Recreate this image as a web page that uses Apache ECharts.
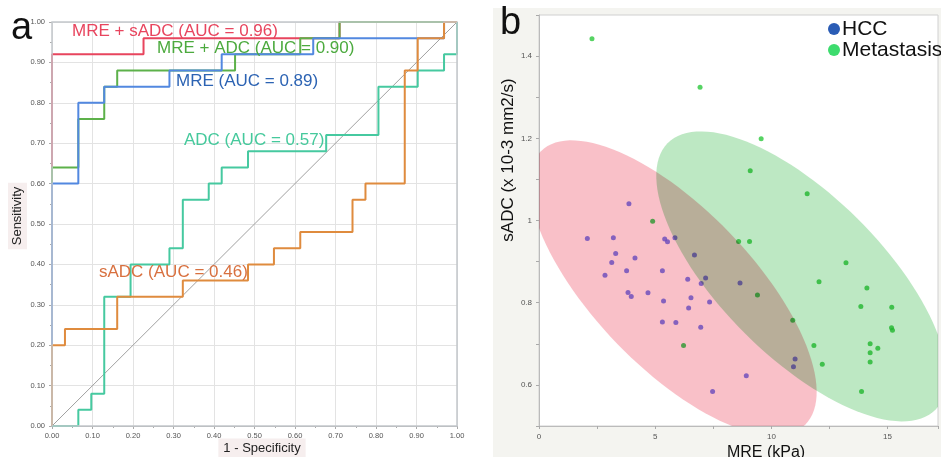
<!DOCTYPE html>
<html><head><meta charset="utf-8">
<script src="https://cdn.jsdelivr.net/npm/echarts@6/dist/echarts.min.js"></script>
<style>html,body{margin:0;padding:0;background:#fff}#c{width:941px;height:457px}</style>
</head><body><div id="c"></div>
<script>
// ---------- Panel a: ROC curves (vertices: [1 - specificity, sensitivity]) ----------
const diagonal = [[0, 0], [1, 1]];
const rocMreSadc = [[0,0],[0,0.92],[0.226,0.92],[0.226,0.96],[0.710,0.96],[0.710,1],[1,1]];
const rocMreAdc = [[0,0],[0,0.64],[0.065,0.64],[0.065,0.76],[0.129,0.76],[0.129,0.84],[0.161,0.84],[0.161,0.88],[0.452,0.88],[0.452,0.92],[0.613,0.92],[0.613,0.96],[0.710,0.96],[0.710,1],[1,1]];
const rocMre = [[0,0],[0,0.60],[0.065,0.60],[0.065,0.80],[0.129,0.80],[0.129,0.84],[0.290,0.84],[0.290,0.88],[0.419,0.88],[0.419,0.92],[0.645,0.92],[0.645,0.96],[0.968,0.96],[0.968,1],[1,1]];
const rocAdc = [[0,0],[0.065,0],[0.065,0.04],[0.097,0.04],[0.097,0.08],[0.129,0.08],[0.129,0.32],[0.194,0.32],[0.194,0.40],[0.290,0.40],[0.290,0.44],[0.323,0.44],[0.323,0.56],[0.387,0.56],[0.387,0.60],[0.419,0.60],[0.419,0.64],[0.484,0.64],[0.484,0.68],[0.677,0.68],[0.677,0.72],[0.806,0.72],[0.806,0.84],[0.903,0.84],[0.903,0.88],[0.968,0.88],[0.968,0.92],[1,0.92],[1,1]];
const rocSadc = [[0,0],[0,0.20],[0.032,0.20],[0.032,0.24],[0.161,0.24],[0.161,0.32],[0.323,0.32],[0.323,0.36],[0.484,0.36],[0.484,0.40],[0.548,0.40],[0.548,0.44],[0.613,0.44],[0.613,0.48],[0.742,0.48],[0.742,0.56],[0.774,0.56],[0.774,0.60],[0.871,0.60],[0.871,0.88],[0.903,0.88],[0.903,0.96],[0.968,0.96],[0.968,1],[1,1]];
const rocLabels = ['MRE + sADC (AUC = 0.96)', 'MRE + ADC (AUC = 0.90)', 'MRE (AUC = 0.89)', 'ADC (AUC = 0.57)', 'sADC (AUC = 0.46)'];

// ---------- Panel b: scatter (MRE kPa, sADC x10-3 mm2/s) ----------
const hccMRE  = [2.08,3.20,3.30,3.13,2.84,3.77,4.13,3.83,3.97,4.69,5.31,5.41,5.53,5.85,5.36,5.31,5.89,6.40,6.54,6.44,6.69,7.17,6.98,7.34,6.96,7.47,8.92,8.65,11.02,10.95,3.87];
const hccSADC = [0.956,0.958,0.920,0.898,0.867,0.878,0.909,0.825,0.815,0.824,0.878,0.955,0.948,0.958,0.804,0.753,0.752,0.857,0.812,0.787,0.916,0.860,0.847,0.802,0.740,0.584,0.622,0.848,0.663,0.644,1.041];
const metMRE  = [2.28,6.93,9.56,9.09,11.54,4.89,8.59,9.06,9.40,6.22,10.92,11.83,12.19,12.05,13.21,14.11,13.85,15.18,15.17,15.21,14.25,14.25,14.25,14.58,13.88];
const metSADC = [1.442,1.324,1.199,1.121,1.065,0.998,0.949,0.949,0.819,0.696,0.757,0.696,0.650,0.851,0.897,0.836,0.791,0.789,0.739,0.733,0.700,0.678,0.656,0.689,0.584];
// density ellipses: centre, major and minor semi-axis vectors (data units)
const ellipseCenter = [[5.77, 0.836], [11.30, 0.864]];
const ellipseMajor  = [[5.686, -0.3327], [5.77, -0.3237]];
const ellipseMinor  = [[-2.418, -0.135], [-2.41, -0.1403]];
const groupNames = ['HCC', 'Metastasis'];

const FONT = '"Liberation Sans", Arial, Helvetica, sans-serif';
const zip = (a, b) => a.map((v, i) => [v, b[i]]);

const chart = echarts.init(document.getElementById('c'), null, {renderer: 'canvas'});

function rocLine(name, data, color, z) {
  return {name, type: 'line', xAxisIndex: 0, yAxisIndex: 0, data, symbol: 'none', clip: true,
    lineStyle: {color, width: 2}, z, silent: true};
}

const ellipseFills = ['#f9c0c8', '#bde8c3'];

const option = {
  animation: false,
  backgroundColor: '#ffffff',
  grid: [
    {left: 52, right: 484, top: 22, bottom: 31, show: true, z: 20, backgroundColor: 'transparent', borderColor: '#c4c8cc', borderWidth: 1.5},
    {left: 539, right: 0, top: 15, bottom: 31, show: true, backgroundColor: '#fff', borderColor: '#d0d0d0', borderWidth: 1}
  ],
  xAxis: [
    {gridIndex: 0, type: 'value', min: 0, max: 1, interval: 0.1,
     axisLine: {show: true, lineStyle: {color: '#aaa'}},
     axisTick: {show: true, length: 3, lineStyle: {color: '#aaa'}},
     minorTick: {show: true, splitNumber: 2, length: 2, lineStyle: {color: '#aaa'}},
     splitLine: {show: true, lineStyle: {color: '#e3e3e3'}},
     axisLabel: {formatter: v => v.toFixed(2), fontSize: 7.5, color: '#555', margin: 6, fontFamily: FONT}},
    {gridIndex: 1, type: 'value', min: 0, max: 17.17, interval: 2.5,
     axisLine: {show: true, lineStyle: {color: '#bbb'}},
     axisTick: {show: true, length: 3, lineStyle: {color: '#aaa'}},
     splitLine: {show: false},
     axisLabel: {formatter: v => (Math.abs(v % 5) < 1e-6 ? String(v) : ''), fontSize: 8, color: '#555', margin: 7, fontFamily: FONT}}
  ],
  yAxis: [
    {gridIndex: 0, type: 'value', min: 0, max: 1, interval: 0.1,
     axisLine: {show: false},
     axisTick: {show: true, length: 3, lineStyle: {color: '#aaa'}},
     minorTick: {show: true, splitNumber: 2, length: 2, lineStyle: {color: '#aaa'}},
     splitLine: {show: true, lineStyle: {color: '#e3e3e3'}},
     axisLabel: {formatter: v => v.toFixed(2), fontSize: 7.5, color: '#555', margin: 7, fontFamily: FONT}},
    {gridIndex: 1, type: 'value', min: 0.5, max: 1.5, interval: 0.1,
     axisLine: {show: true, lineStyle: {color: '#bbb'}},
     axisTick: {show: true, length: 3, lineStyle: {color: '#aaa'}},
     splitLine: {show: false},
     axisLabel: {formatter: v => { const k = Math.round(v * 10); return (k % 2 === 0 && k > 5 && k < 15) ? String(+(k / 10).toFixed(1)) : ''; },
       fontSize: 8, color: '#555', margin: 7, fontFamily: FONT}}
  ],
  series: [
    {name: 'diag', type: 'line', xAxisIndex: 0, yAxisIndex: 0, data: diagonal, symbol: 'none', clip: true,
     lineStyle: {color: '#a0a0a0', width: 1}, z: 2, silent: true},
    rocLine(rocLabels[0], rocMreSadc, '#e8455e', 3),
    rocLine(rocLabels[1], rocMreAdc, '#5db14a', 4),
    rocLine(rocLabels[2], rocMre, '#5288e0', 5),
    rocLine(rocLabels[3], rocAdc, '#46c9a0', 6),
    rocLine(rocLabels[4], rocSadc, '#df8b3e', 7),
    {name: groupNames[0], type: 'scatter', xAxisIndex: 1, yAxisIndex: 1, data: zip(hccMRE, hccSADC),
     symbolSize: 5, itemStyle: {color: '#6a62f0'}, z: 2, silent: true},
    {name: groupNames[1], type: 'scatter', xAxisIndex: 1, yAxisIndex: 1, data: zip(metMRE, metSADC),
     symbolSize: 5, itemStyle: {color: '#2cc83c'}, z: 2, silent: true},
    {name: 'ellipses', type: 'custom', xAxisIndex: 1, yAxisIndex: 1, clip: true, z: 3, silent: true,
     blendMode: 'multiply',
     data: ellipseCenter.map((c, i) => [c[0], c[1], ellipseMajor[i][0], ellipseMajor[i][1], ellipseMinor[i][0], ellipseMinor[i][1], i]),
     renderItem: function (params, api) {
       const cx = api.value(0), cy = api.value(1), ax = api.value(2), ay = api.value(3), bx = api.value(4), by = api.value(5);
       const idx = api.value(6);
       const pts = [];
       for (let k = 0; k < 120; k++) {
         const t = k / 120 * Math.PI * 2;
         pts.push(api.coord([cx + ax * Math.cos(t) + bx * Math.sin(t), cy + ay * Math.cos(t) + by * Math.sin(t)]));
       }
       return {type: 'polygon', shape: {points: pts}, style: {fill: ellipseFills[idx], blend: 'multiply'}};
     }}
  ],
  graphic: [
    {type: 'rect', z: -10, shape: {x: 493, y: 8, width: 448, height: 449}, style: {fill: '#f4f4f0'}},
    // panel letters
    {type: 'text', z: 100, left: 11, top: 10, style: {text: 'a', font: '38px ' + FONT, fill: '#111'}},
    {type: 'text', z: 100, left: 500, top: 5, style: {text: 'b', font: '38px ' + FONT, fill: '#111'}},
    // ROC labels
    {type: 'text', z: 100, x: 72, y: 31, style: {text: rocLabels[0], font: '17px ' + FONT, fill: '#e8455e', verticalAlign: 'middle'}},
    {type: 'text', z: 100, x: 157, y: 48, style: {text: rocLabels[1], font: '17px ' + FONT, fill: '#4caa3e', verticalAlign: 'middle'}},
    {type: 'text', z: 100, x: 176, y: 81, style: {text: rocLabels[2], font: '17px ' + FONT, fill: '#2c63b3', verticalAlign: 'middle'}},
    {type: 'text', z: 100, x: 184, y: 140, style: {text: rocLabels[3], font: '17px ' + FONT, fill: '#45c99c', verticalAlign: 'middle'}},
    {type: 'text', z: 100, x: 99, y: 272, style: {text: rocLabels[4], font: '17px ' + FONT, fill: '#d8703f', verticalAlign: 'middle'}},
    // axis titles panel a
    {type: 'text', z: 100, x: 17.5, y: 216, rotation: Math.PI / 2,
     style: {text: 'Sensitivity', font: '13px ' + FONT, fill: '#222', align: 'center', verticalAlign: 'middle',
             backgroundColor: '#f6eeee', padding: [3, 4, 3, 4]}},
    {type: 'text', z: 100, x: 262, y: 448,
     style: {text: '1 - Specificity', font: '13px ' + FONT, fill: '#222', align: 'center', verticalAlign: 'middle',
             backgroundColor: '#f6eeee', padding: [3, 5, 3, 5]}},
    // axis titles panel b
    {type: 'text', z: 100, x: 508, y: 160, rotation: Math.PI / 2,
     style: {text: 'sADC (x 10-3 mm2/s)', font: '17px ' + FONT, fill: '#111', align: 'center', verticalAlign: 'middle'}},
    {type: 'text', z: 100, x: 766, y: 453,
     style: {text: 'MRE (kPa)', font: '16px ' + FONT, fill: '#111', align: 'center', verticalAlign: 'middle'}},
    // legend panel b
    {type: 'circle', z: 100, shape: {cx: 834, cy: 29, r: 6}, style: {fill: '#2a5cb5'}},
    {type: 'text', z: 100, x: 842, y: 29, style: {text: groupNames[0], font: '21px ' + FONT, fill: '#111', verticalAlign: 'middle'}},
    {type: 'circle', z: 100, shape: {cx: 834, cy: 50, r: 6}, style: {fill: '#3ddc6e'}},
    {type: 'text', z: 100, x: 842, y: 50, style: {text: groupNames[1], font: '21px ' + FONT, fill: '#111', verticalAlign: 'middle'}}
  ]
};
chart.setOption(option);
</script>
</body></html>
